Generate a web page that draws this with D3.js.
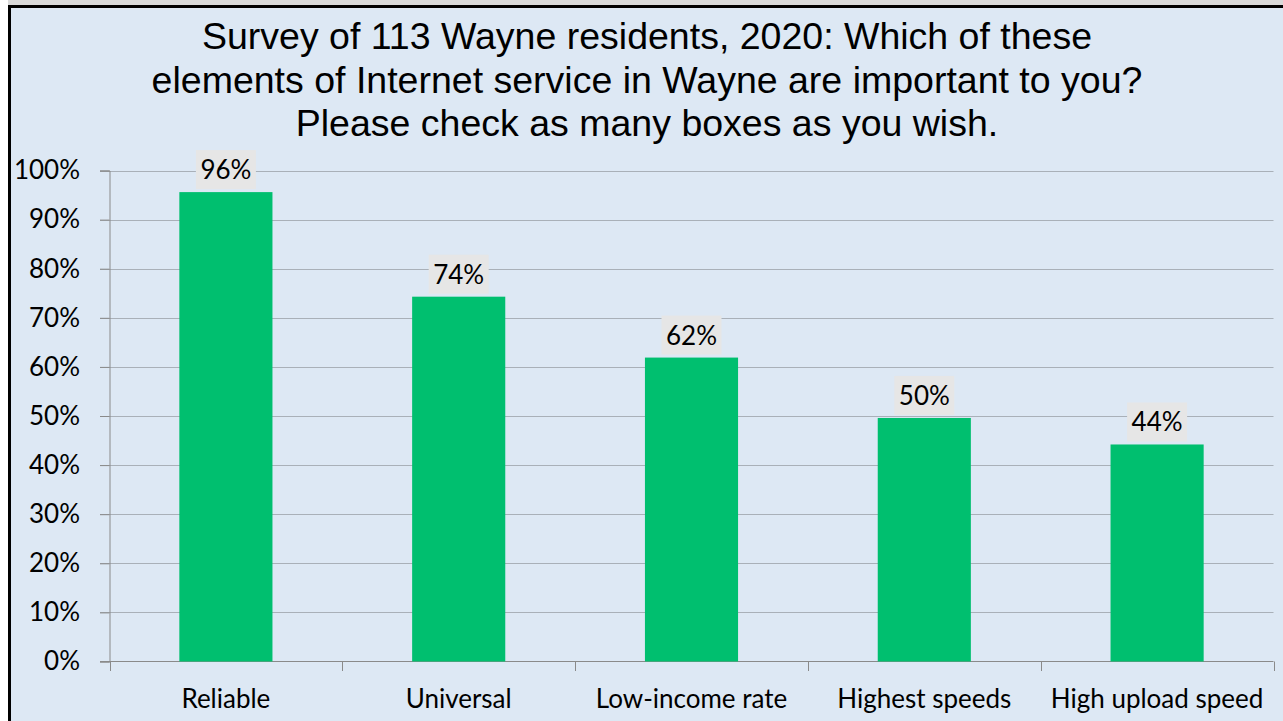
<!DOCTYPE html>
<html>
<head>
<meta charset="utf-8">
<script src="https://cdn.jsdelivr.net/npm/d3@7"></script>
<style>
  body { margin: 0; background: #fff; }
  svg { display: block; }
</style>
</head>
<body>
<svg></svg>
<script>
//Setting
const width = 1283;
const height = 721;

//Data
const categories = ["Reliable", "Universal", "Low-income rate", "Highest speeds", "High upload speed"];
const values = [0.956, 0.743, 0.619, 0.496, 0.442];
const yTicks = [0, 0.1, 0.2, 0.3, 0.4, 0.5, 0.6, 0.7, 0.8, 0.9, 1.0];
const titleLines = [
  "Survey of 113 Wayne residents, 2020: Which of these",
  "elements of Internet service in Wayne are important to you?",
  "Please check as many boxes as you wish."
];

const labelFont = "Lato, 'Open Sans', sans-serif";

const svg = d3.select("svg")
            .attr("width", width)
            .attr("height", height)

// frame
svg.append("rect")
   .attr("x", 8).attr("y", 0)
   .attr("width", width).attr("height", 5)
   .style("fill", "#d9d9d9")
svg.append("rect")
   .attr("x", 9.5).attr("y", 6.5)
   .attr("width", width + 10).attr("height", height + 10)
   .style("fill", "#dde8f4")
   .style("stroke", "#000")
   .style("stroke-width", 3)

// title
svg.append("text")
   .attr("x", 647)
   .attr("y", 49)
   .attr("text-anchor", "middle")
   .style("font-family", "'Liberation Sans', Arial, sans-serif")
   .style("font-size", "37.5px")
   .style("fill", "#000")
   .selectAll("tspan")
   .data(titleLines)
   .enter()
   .append("tspan")
   .attr("x", 647)
   .attr("dy", (d, i) => i === 0 ? 0 : 43.5)
   .text(d => d)

//Scales
const x = d3.scaleBand()
            .domain(categories)
            .range([109.5, 1273.5])
            .paddingInner(0.6)
            .paddingOuter(0.3)

const y = d3.scaleLinear()
            .domain([0, 1])
            .range([661.5, 170.5])

// gridlines
svg.append("g")
   .selectAll("line")
   .data(yTicks.slice(1))
   .enter()
   .append("line")
   .attr("x1", 100)
   .attr("x2", 1273.5)
   .attr("y1", d => Math.round(y(d)) + 0.5)
   .attr("y2", d => Math.round(y(d)) + 0.5)
   .style("stroke", "#a9b0b8")
   .style("stroke-width", 1)

// y axis
const yAxis = svg.append("g")
   .attr("transform", "translate(109.5,0)")
   .call(d3.axisLeft(y).tickValues(yTicks).tickFormat(d3.format(".0%")).tickSize(9.5).tickPadding(20))
yAxis.select(".domain").style("stroke", "#8a8a8a")
yAxis.selectAll(".tick line").style("stroke", "#8a8a8a")
yAxis.selectAll("text")
   .style("font-family", labelFont)
   .style("font-size", "26px")
   .style("fill", "#000")

// x axis
const xEdges = d3.range(categories.length + 1).map(i => 109.5 + i * (1164 / categories.length));
const xg = svg.append("g")
xg.append("line")
   .attr("x1", 100).attr("x2", 1273.5)
   .attr("y1", 661.5).attr("y2", 661.5)
   .style("stroke", "#8a8a8a")
xg.selectAll(".xt")
   .data(xEdges)
   .enter()
   .append("line")
   .attr("x1", d => Math.round(d) + 0.5).attr("x2", d => Math.round(d) + 0.5)
   .attr("y1", 661.5).attr("y2", 671)
   .style("stroke", "#8a8a8a")
xg.selectAll("text")
   .data(categories)
   .enter()
   .append("text")
   .attr("x", d => x(d) + x.bandwidth() / 2)
   .attr("y", 708)
   .attr("text-anchor", "middle")
   .style("font-family", labelFont)
   .style("font-size", "26px")
   .style("fill", "#000")
   .text(d => d)

// bars
svg.append("g")
   .selectAll("rect")
   .data(values)
   .enter()
   .append("rect")
   .attr("x", (d, i) => x(categories[i]))
   .attr("y", d => y(d))
   .attr("width", x.bandwidth())
   .attr("height", d => y(0) - y(d))
   .style("fill", "#00bf6f")

// value labels
const lab = svg.append("g")
   .selectAll("g")
   .data(values)
   .enter()
   .append("g")
   .attr("transform", (d, i) => `translate(${x(categories[i]) + x.bandwidth() / 2}, ${y(d) - 3})`)
lab.append("rect")
   .attr("x", -30)
   .attr("y", -39)
   .attr("width", 60)
   .attr("height", 39)
   .style("fill", "#e6e6e6")
lab.append("text")
   .attr("y", -10)
   .attr("text-anchor", "middle")
   .style("font-family", labelFont)
   .style("font-size", "26px")
   .style("fill", "#000")
   .text(d => Math.round(d * 100) + "%")
</script>
</body>
</html>
